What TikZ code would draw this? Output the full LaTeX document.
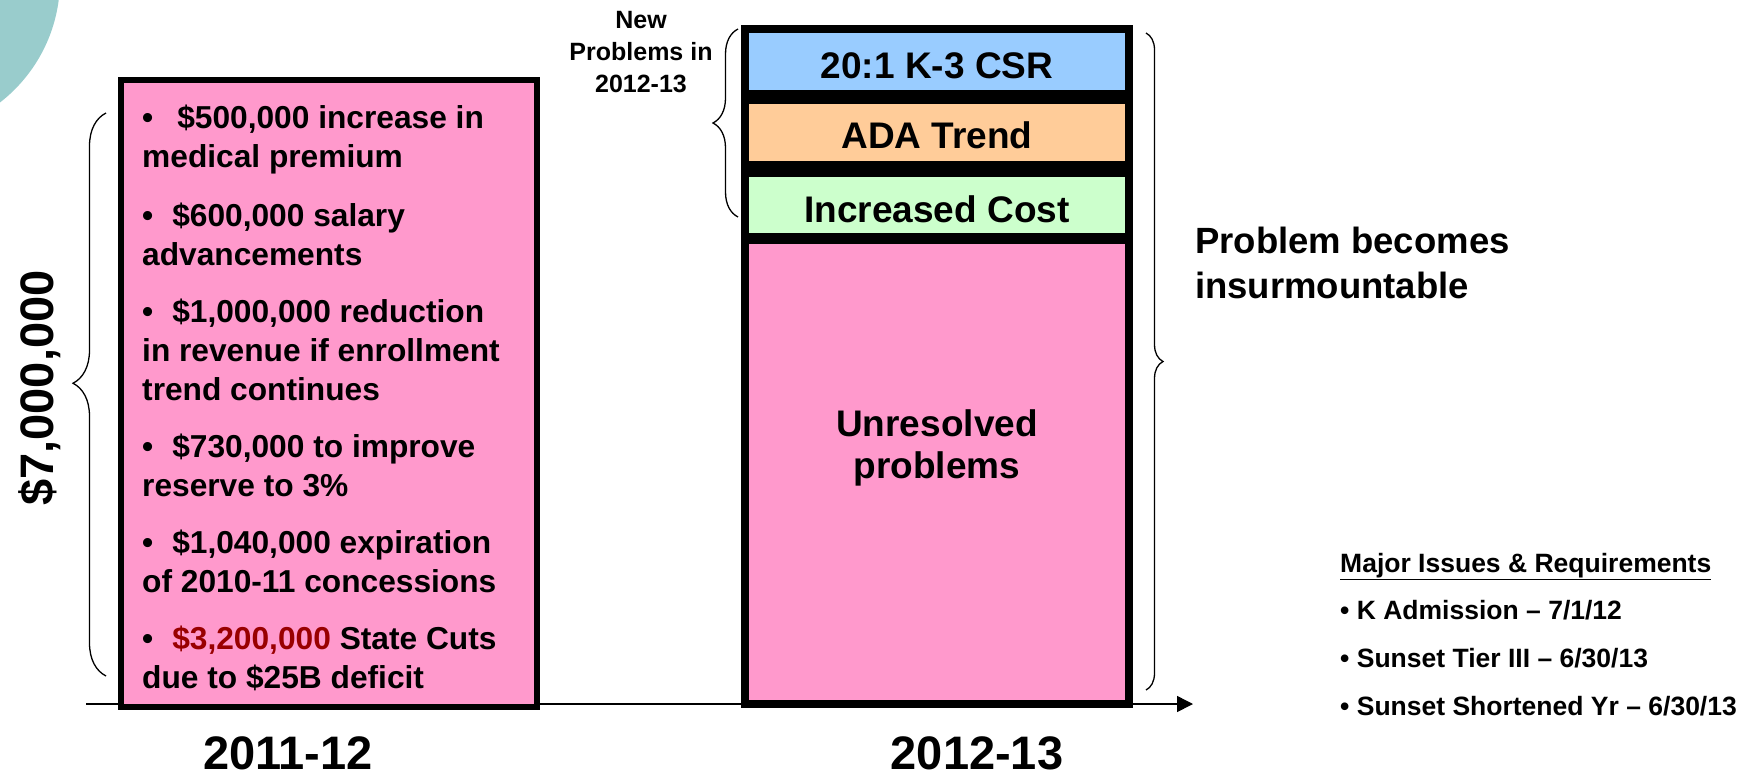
\documentclass[tikz,border=0pt]{standalone}
\usepackage{fontspec}
\setmainfont{Liberation Sans}
\usetikzlibrary{decorations.pathreplacing,arrows.meta,calc}
\definecolor{pinkbox}{RGB}{255,153,204}
\definecolor{bluebox}{RGB}{153,204,255}
\definecolor{orangebox}{RGB}{255,204,153}
\definecolor{greenbox}{RGB}{204,255,204}
\definecolor{tealdeco}{RGB}{153,204,204}
\definecolor{cutred}{RGB}{153,0,0}
\tikzset{
  itemtxt/.style={font=\bfseries\fontsize{31.7}{39}\selectfont, anchor=base west, inner sep=0pt},
  boxlab/.style={font=\bfseries\fontsize{37}{41}\selectfont, anchor=base, inner sep=0pt},
  sidelab/.style={font=\bfseries\fontsize{36.5}{44}\selectfont, anchor=base west, inner sep=0pt},
  newlab/.style={font=\bfseries\fontsize{25}{32}\selectfont, anchor=base, inner sep=0pt},
  issue/.style={font=\bfseries\fontsize{26.5}{32}\selectfont, anchor=base west, inner sep=0pt},
  yearlab/.style={font=\bfseries\fontsize{47}{50}\selectfont, anchor=base, inner sep=0pt},
  barbox/.style={draw=black, line width=8pt, minimum width=384pt, inner sep=0pt},
  bracel/.style={decorate, line width=1.3pt},
}
\begin{document}
\begin{tikzpicture}[x=1pt,y=-1pt]
\useasboundingbox (0,0) rectangle (1755,779);
\begin{scope}
\clip (0,0) rectangle (1755,779);
\fill[tealdeco] (-95,-20) circle[radius=155];
\end{scope}

% axis
\coordinate (axs) at (86,704);
\coordinate (axe) at (1193,704);
\draw[line width=1.5pt, -{Triangle[length=16pt,width=16pt]}] (axs) -- (axe);

% left box
\node[draw=black, line width=6pt, fill=pinkbox, minimum width=416pt, minimum height=627pt, inner sep=0pt] (box1) at (329,393.5) {};

\node[itemtxt] (i1a) at (142,128) {•\hspace*{24pt}\$500,000 increase in};
\node[itemtxt] (i1b) at (142,167) {medical premium};
\node[itemtxt] (i2a) at (142,226) {•\hspace*{19pt}\$600,000 salary};
\node[itemtxt] (i2b) at (142,265) {advancements};
\node[itemtxt] (i3a) at (142,322) {•\hspace*{19pt}\$1,000,000 reduction};
\node[itemtxt] (i3b) at (142,361) {in revenue if enrollment};
\node[itemtxt] (i3c) at (142,400) {trend continues};
\node[itemtxt] (i4a) at (142,457) {•\hspace*{19pt}\$730,000 to improve};
\node[itemtxt] (i4b) at (142,496) {reserve to 3\%};
\node[itemtxt] (i5a) at (142,553) {•\hspace*{19pt}\$1,040,000 expiration};
\node[itemtxt] (i5b) at (142,592) {of 2010-11 concessions};
\node[itemtxt] (i6a) at (142,649) {•\hspace*{19pt}\textcolor{cutred}{\$3,200,000} State Cuts};
\node[itemtxt] (i6b) at (142,688) {due to \$25B deficit};

% right stacked boxes
\node[barbox, fill=bluebox, minimum height=65pt] (csr) at (937,61.5) {};
\node[barbox, fill=orangebox, minimum height=65pt] (ada) at (937,132.5) {};
\node[barbox, fill=greenbox, minimum height=64pt] (cost) at (937,205) {};
\node[barbox, fill=pinkbox, minimum height=464pt] (unres) at (937,472) {};

\node[boxlab] (tcsr) at (937,78) {20:1 K-3 CSR};
\node[boxlab] (tada) at (937,148) {ADA Trend};
\node[boxlab] (tcost) at (937,222) {Increased Cost};
\node[boxlab] (tun1) at (937,436.5) {Unresolved};
\node[boxlab] (tun2) at (937,478) {problems};

% new problems label and brace
\node[newlab] (np1) at (641,28) {New};
\node[newlab] (np2) at (641,60) {Problems in};
\node[newlab] (np3) at (641,92) {2012-13};
\coordinate (nbb) at (738,217);
\coordinate (nbt) at (738,29);
\draw[bracel, decoration={brace, amplitude=25pt}] (nbb) -- (nbt);

% left brace and total
\coordinate (lbb) at (106,676);
\coordinate (lbt) at (106,113);
\draw[bracel, decoration={brace, amplitude=33pt, aspect=0.52}] (lbb) -- (lbt);
\node[font=\bfseries\fontsize{47}{50}\selectfont, rotate=90, inner sep=0pt] (total) at (40,388) {\$7,000,000};

% right brace and label
\coordinate (rbt) at (1146,33);
\coordinate (rbb) at (1146,690);
\draw[bracel, decoration={brace, amplitude=17pt}] (rbt) -- (rbb);
\node[sidelab] (pb1) at (1195,253) {Problem becomes};
\node[sidelab] (pb2) at (1195,298) {insurmountable};

% major issues
\node[issue] (mi0) at (1340,572) {\underline{Major Issues \& Requirements}};
\node[issue] (mi1) at (1340,619) {• K Admission – 7/1/12};
\node[issue] (mi2) at (1340,667) {• Sunset Tier III – 6/30/13};
\node[issue] (mi3) at (1340,715) {• Sunset Shortened Yr – 6/30/13};

% years
\node[yearlab] (y1) at (288,769) {2011-12};
\node[yearlab] (y2) at (977,769) {2012-13};
\end{tikzpicture}
\end{document}
